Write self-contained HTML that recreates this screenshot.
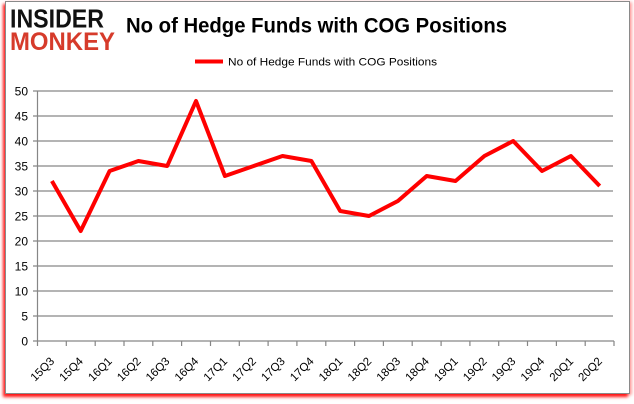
<!DOCTYPE html>
<html><head><meta charset="utf-8"><style>
html,body{margin:0;padding:0;background:#fff;width:634px;height:404px;overflow:hidden}
.frame{position:absolute;left:5px;top:1px;width:623px;height:391px;border:1px solid #8a8a8a;background:#fff;box-shadow:-2px 3px 3px rgba(255,0,0,0.9),2px 1px 3px rgba(255,80,80,0.5)}
svg{position:absolute;left:0;top:0}
</style></head><body>
<div class="frame"></div>
<svg width="634" height="404" viewBox="0 0 634 404" xmlns="http://www.w3.org/2000/svg">
<text x="10" y="27.5" font-family="Liberation Sans, sans-serif" font-weight="bold" font-size="26" textLength="94" lengthAdjust="spacingAndGlyphs" fill="#111">INSIDER</text>
<text x="10" y="50" font-family="Liberation Sans, sans-serif" font-weight="bold" font-size="25" textLength="105" lengthAdjust="spacingAndGlyphs" fill="#d63b2b">MONKEY</text>
<text x="126" y="32.5" font-family="Liberation Sans, sans-serif" font-weight="bold" font-size="21" textLength="381" lengthAdjust="spacingAndGlyphs" fill="#000">No of Hedge Funds with COG Positions</text>
<line x1="195" y1="61.5" x2="223" y2="61.5" stroke="#ff0000" stroke-width="4"/>
<text x="228" y="65.5" font-family="Liberation Sans, sans-serif" font-size="11" textLength="209" lengthAdjust="spacingAndGlyphs" fill="#000">No of Hedge Funds with COG Positions</text>
<g stroke="#868686" stroke-width="1.2">
<line x1="33" y1="91" x2="613" y2="91"/>
<line x1="33" y1="116" x2="613" y2="116"/>
<line x1="33" y1="141" x2="613" y2="141"/>
<line x1="33" y1="166" x2="613" y2="166"/>
<line x1="33" y1="191" x2="613" y2="191"/>
<line x1="33" y1="216" x2="613" y2="216"/>
<line x1="33" y1="241" x2="613" y2="241"/>
<line x1="33" y1="266" x2="613" y2="266"/>
<line x1="33" y1="291" x2="613" y2="291"/>
<line x1="33" y1="316" x2="613" y2="316"/>
<line x1="33" y1="341" x2="614" y2="341"/>
<line x1="37.5" y1="91" x2="37.5" y2="346"/>
<line x1="66.3" y1="341" x2="66.3" y2="346"/>
<line x1="95.2" y1="341" x2="95.2" y2="346"/>
<line x1="124" y1="341" x2="124" y2="346"/>
<line x1="152.8" y1="341" x2="152.8" y2="346"/>
<line x1="181.6" y1="341" x2="181.6" y2="346"/>
<line x1="210.5" y1="341" x2="210.5" y2="346"/>
<line x1="239.3" y1="341" x2="239.3" y2="346"/>
<line x1="268.1" y1="341" x2="268.1" y2="346"/>
<line x1="296.9" y1="341" x2="296.9" y2="346"/>
<line x1="325.8" y1="341" x2="325.8" y2="346"/>
<line x1="354.6" y1="341" x2="354.6" y2="346"/>
<line x1="383.4" y1="341" x2="383.4" y2="346"/>
<line x1="412.2" y1="341" x2="412.2" y2="346"/>
<line x1="441.1" y1="341" x2="441.1" y2="346"/>
<line x1="469.9" y1="341" x2="469.9" y2="346"/>
<line x1="498.7" y1="341" x2="498.7" y2="346"/>
<line x1="527.5" y1="341" x2="527.5" y2="346"/>
<line x1="556.4" y1="341" x2="556.4" y2="346"/>
<line x1="585.2" y1="341" x2="585.2" y2="346"/>
<line x1="614" y1="341" x2="614" y2="346"/>
</g>
<g font-family="Liberation Sans, sans-serif" font-size="12" fill="#000" text-anchor="end">
<text x="28" y="95.5">50</text>
<text x="28" y="120.5">45</text>
<text x="28" y="145.5">40</text>
<text x="28" y="170.5">35</text>
<text x="28" y="195.5">30</text>
<text x="28" y="220.5">25</text>
<text x="28" y="245.5">20</text>
<text x="28" y="270.5">15</text>
<text x="28" y="295.5">10</text>
<text x="28" y="320.5">5</text>
<text x="28" y="345.5">0</text>
</g>
<polyline fill="none" stroke="#ff0000" stroke-width="4" stroke-linejoin="round" points="51.9,181 80.7,231 109.6,171 138.4,161 167.2,166 196,101 224.9,176 253.7,166 282.5,156 311.4,161 340.2,211 369,216 397.9,201 426.7,176 455.5,181 484.4,156 513.2,141 542,171 570.9,156 599.7,186"/>
<g font-family="Liberation Sans, sans-serif" font-size="11.5" fill="#000" text-anchor="end">
<text transform="translate(55,362) rotate(-45)">15Q3</text>
<text transform="translate(83.8,362) rotate(-45)">15Q4</text>
<text transform="translate(112.7,362) rotate(-45)">16Q1</text>
<text transform="translate(141.5,362) rotate(-45)">16Q2</text>
<text transform="translate(170.3,362) rotate(-45)">16Q3</text>
<text transform="translate(199.1,362) rotate(-45)">16Q4</text>
<text transform="translate(228,362) rotate(-45)">17Q1</text>
<text transform="translate(256.8,362) rotate(-45)">17Q2</text>
<text transform="translate(285.6,362) rotate(-45)">17Q3</text>
<text transform="translate(314.5,362) rotate(-45)">17Q4</text>
<text transform="translate(343.3,362) rotate(-45)">18Q1</text>
<text transform="translate(372.1,362) rotate(-45)">18Q2</text>
<text transform="translate(401,362) rotate(-45)">18Q3</text>
<text transform="translate(429.8,362) rotate(-45)">18Q4</text>
<text transform="translate(458.6,362) rotate(-45)">19Q1</text>
<text transform="translate(487.5,362) rotate(-45)">19Q2</text>
<text transform="translate(516.3,362) rotate(-45)">19Q3</text>
<text transform="translate(545.1,362) rotate(-45)">19Q4</text>
<text transform="translate(574,362) rotate(-45)">20Q1</text>
<text transform="translate(602.8,362) rotate(-45)">20Q2</text>
</g>
</svg>
</body></html>
